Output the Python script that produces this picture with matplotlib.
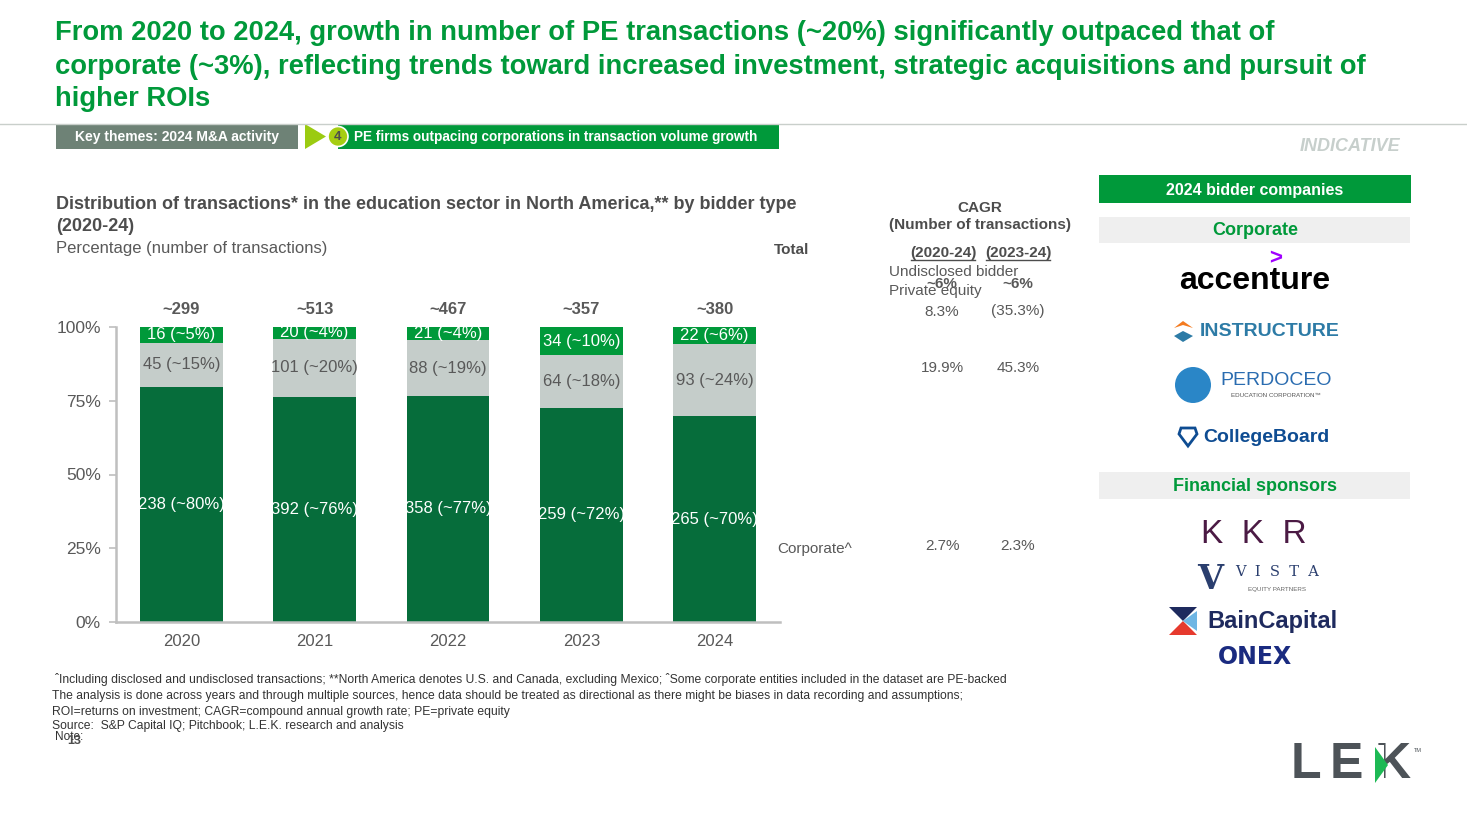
import matplotlib
matplotlib.use("Agg")
import matplotlib.pyplot as plt
import numpy as np
from matplotlib import font_manager
from matplotlib.patches import Rectangle, Polygon, Ellipse

W, H = 1467, 825

# data
years = ["2020", "2021", "2022", "2023", "2024"]
corporate = [238, 392, 358, 259, 265]
undisclosed = [45, 101, 88, 64, 93]
private_equity = [16, 20, 21, 34, 22]
totals = [299, 513, 467, 357, 380]
# share labels as printed on the slide
corporate_pct = [80, 76, 77, 72, 70]
undisclosed_pct = [15, 20, 19, 18, 24]
pe_pct = [5, 4, 4, 10, 6]
cagr_rows = ["Total", "Private equity", "Undisclosed bidder", "Corporate^"]
cagr_2020_24 = ["~6%", "8.3%", "19.9%", "2.7%"]
cagr_2023_24 = ["~6%", "(35.3%)", "45.3%", "2.3%"]

DARK = "#066D3B"
BRIGHT = "#00993A"
LIGHT = "#C5CDCA"
TXT = "#595959"
HEAD = "#4D4D4D"

names = {f.name for f in font_manager.fontManager.ttflist}
SANS = "Liberation Sans" if "Liberation Sans" in names else "DejaVu Sans"
NARROW = "Liberation Sans Narrow" if "Liberation Sans Narrow" in names else SANS
plt.rcParams["font.family"] = [SANS, "DejaVu Sans"]

fig = plt.figure(figsize=(W / 100, H / 100), dpi=100)


def fx(x):
    return x / W


def fy(y):
    return 1 - y / H


def txt(x, y, s, **kw):
    kw.setdefault("va", "center")
    return fig.text(fx(x), fy(y + 1.5), s, **kw)


def box(x0, y0, x1, y1, color, z=1):
    fig.patches.append(Rectangle((fx(x0), fy(y1)), fx(x1) - fx(x0), fy(y0) - fy(y1),
                                 transform=fig.transFigure, color=color, lw=0, zorder=z))


def poly(pts, color, fill=True, lw=0, z=1):
    fig.patches.append(Polygon([(fx(a), fy(b)) for a, b in pts], closed=True,
                               transform=fig.transFigure, fill=fill, zorder=z,
                               facecolor=color if fill else "none", edgecolor=color, lw=lw))


def disc(cx, cy, r, face, edge="none", lw=0):
    fig.patches.append(Ellipse((fx(cx), fy(cy)), 2 * r / W, 2 * r / H, transform=fig.transFigure,
                               facecolor=face, edgecolor=edge, lw=lw))


# headline
title = ["From 2020 to 2024, growth in number of PE transactions (~20%) significantly outpaced that of",
         "corporate (~3%), reflecting trends toward increased investment, strategic acquisitions and pursuit of",
         "higher ROIs"]
for i, line in enumerate(title):
    txt(55, 32 + i * 33, line, fontsize=19.75, fontweight="bold", color="#00993A")

fig.add_artist(plt.Line2D([0, 1], [fy(124), fy(124)], transform=fig.transFigure,
                          color="#C9CFCB", lw=1))

# breadcrumb
box(56, 124, 298, 149, "#6E8276")
txt(177, 135, "Key themes: 2024 M&A activity", fontsize=10, fontweight="bold",
    color="white", ha="center", family=NARROW)
poly([(305, 124), (326, 136.5), (305, 149)], "#9BCB11")
box(338, 124, 779, 149, BRIGHT)
disc(338, 136.5, 10, "#A6CE12", "white", 1.2)
txt(338, 135, "4", fontsize=9.5, fontweight="bold", color=HEAD, ha="center")
txt(354, 135, "PE firms outpacing corporations in transaction volume growth", fontsize=9.8,
    fontweight="bold", color="white", family=NARROW)
txt(1350, 145, "INDICATIVE", fontsize=13, fontweight="bold", style="italic",
    color="#C7CFCC", ha="center")

# chart headings
txt(56, 203, "Distribution of transactions* in the education sector in North America,** by bidder type",
    fontsize=13, fontweight="bold", color=HEAD)
txt(56, 225, "(2020-24)", fontsize=13, fontweight="bold", color=HEAD)
txt(56, 247, "Percentage (number of transactions)", fontsize=12, color=TXT)

# stacked bars
corp = np.array(corporate, float)
und = np.array(undisclosed, float)
pe = np.array(private_equity, float)
tot = np.array(totals, float)
s_corp, s_und, s_pe = corp / tot, und / tot, pe / tot

ax = fig.add_axes([fx(116), fy(622), fx(780) - fx(116), fy(327) - fy(622)])
x = np.arange(len(years))
bw = 0.62
ax.bar(x, s_corp, bw, color=DARK, zorder=2)
ax.bar(x, s_und, bw, bottom=s_corp, color=LIGHT, zorder=2)
ax.bar(x, s_pe, bw, bottom=s_corp + s_und, color=BRIGHT, zorder=2)

for i in range(len(years)):
    ax.text(x[i], s_corp[i] / 2, f"{corporate[i]} (~{corporate_pct[i]}%)", ha="center",
            va="center", color="white", fontsize=12, zorder=3)
    ax.text(x[i], s_corp[i] + s_und[i] / 2, f"{undisclosed[i]} (~{undisclosed_pct[i]}%)",
            ha="center", va="center", color=TXT, fontsize=12, zorder=3)
    ax.text(x[i], s_corp[i] + s_und[i] + s_pe[i] / 2, f"{private_equity[i]} (~{pe_pct[i]}%)",
            ha="center", va="center", color="white", fontsize=12, zorder=3)
    ax.text(x[i], 1.06, f"~{totals[i]}", ha="center", va="center", color=TXT,
            fontsize=12, fontweight="bold")

ax.set_xlim(-0.49, 4.49)
ax.set_ylim(0, 1)
ax.set_yticks([0, 0.25, 0.5, 0.75, 1.0])
ax.set_yticklabels(["0%", "25%", "50%", "75%", "100%"])
ax.set_xticks(x)
ax.set_xticklabels(years)
ax.tick_params(axis="y", colors="#BFBFBF", labelcolor=TXT, labelsize=12.5, length=5, width=1.2, pad=6)
ax.tick_params(axis="x", length=0, labelcolor=TXT, labelsize=12, pad=9)
for sp in ["top", "right"]:
    ax.spines[sp].set_visible(False)
for sp in ["left", "bottom"]:
    ax.spines[sp].set_color("#BFBFBF")
    ax.spines[sp].set_linewidth(1.8)
ax.patch.set_alpha(0)

# CAGR table
txt(980, 206, "CAGR", fontsize=11, fontweight="bold", color=HEAD, ha="center")
txt(980, 223, "(Number of transactions)", fontsize=11, fontweight="bold", color=HEAD, ha="center")
for cx, lab in [(943, "(2020-24)"), (1018, "(2023-24)")]:
    txt(cx, 251, lab, fontsize=11, fontweight="bold", color=HEAD, ha="center")
    fig.add_artist(plt.Line2D([fx(cx - 32), fx(cx + 32)], [fy(260), fy(260)],
                              transform=fig.transFigure, color=HEAD, lw=1))
txt(774, 249, cagr_rows[0], fontsize=11, fontweight="bold", color=HEAD)
txt(889, 271, cagr_rows[2], fontsize=11, color=TXT)
txt(889, 290, cagr_rows[1], fontsize=11, color=TXT)
txt(777, 548, cagr_rows[3], fontsize=11, color=TXT)
row_y = [282, 310, 367, 545]
for j, ry in enumerate(row_y):
    w = "bold" if j == 0 else "normal"
    txt(942, ry, cagr_2020_24[j], fontsize=11, color=TXT, ha="center", fontweight=w)
    txt(1018, ry, cagr_2023_24[j], fontsize=11, color=TXT, ha="center", fontweight=w)

# right panel
box(1099, 175, 1411, 203, BRIGHT)
txt(1255, 189, "2024 bidder companies", fontsize=11.5, fontweight="bold", color="white", ha="center")
box(1099, 217, 1410, 243, "#EFEFEF")
txt(1255, 229, "Corporate", fontsize=13, fontweight="bold", color=BRIGHT, ha="center")
box(1099, 472, 1410, 499, "#EFEFEF")
txt(1255, 485, "Financial sponsors", fontsize=13, fontweight="bold", color=BRIGHT, ha="center")

# logos (text approximations)
txt(1255, 279, "accenture", fontsize=23, fontweight="bold", color="black", ha="center")
txt(1276, 257, ">", fontsize=16, fontweight="bold", color="#A100FF", ha="center")
poly([(1174, 328), (1183, 321), (1193, 328), (1183, 325)], "#F47B20")
poly([(1174, 336), (1183, 331), (1193, 336), (1183, 342)], "#2D7BA6")
txt(1270, 330, "INSTRUCTURE", fontsize=14, fontweight="bold", color="#2D7BA6",
    ha="center", family=NARROW)
disc(1193, 385, 18, "#2A86C7")
txt(1276, 379, "PERDOCEO", fontsize=14, color="#2A6CB0", ha="center")
txt(1276, 394, "EDUCATION CORPORATION\u2122", fontsize=4.5, color="#555555", ha="center")
poly([(1181, 428), (1195, 428), (1197, 434), (1188, 446), (1179, 434)], "#0E4C92", fill=False, lw=2)
txt(1266, 436, "CollegeBoard", fontsize=14, fontweight="bold", color="#0E4C92", ha="center")
txt(1254, 533, "K  K  R", fontsize=24, color="#4B1A44", ha="center")
txt(1210, 578, "V", fontsize=24, fontweight="bold", color="#2A3E6E", ha="center", family="DejaVu Serif")
txt(1277, 571, "V  I  S  T  A", fontsize=10.5, color="#2A3E6E", ha="center", family="DejaVu Serif")
txt(1277, 588, "EQUITY PARTNERS", fontsize=4.5, color="#666666", ha="center")
poly([(1169, 607), (1197, 607), (1183, 621)], "#1E2A5E")
poly([(1169, 635), (1197, 635), (1183, 621)], "#E63A2E")
poly([(1183, 621), (1197, 611), (1197, 631)], "#6FB6E4")
txt(1272, 620, "BainCapital", fontsize=17, fontweight="bold", color="#1E2A5E", ha="center")
txt(1255, 656, "ONEX", fontsize=17, fontweight="heavy", color="#1A2B80", ha="center",
    family="DejaVu Sans")

# footnotes
foot = ["\u02c6Including disclosed and undisclosed transactions; **North America denotes U.S. and Canada, excluding Mexico; \u02c6Some corporate entities included in the dataset are PE-backed",
        "The analysis is done across years and through multiple sources, hence data should be treated as directional as there might be biases in data recording and assumptions;",
        "ROI=returns on investment; CAGR=compound annual growth rate; PE=private equity",
        "Source:  S&P Capital IQ; Pitchbook; L.E.K. research and analysis"]
fy_list = [678, 695, 710, 725]
for k, line in enumerate(foot):
    txt(52 if k > 0 else 55, fy_list[k], line, fontsize=8.7, color="#333333", family=NARROW)
txt(55, 735, "Note:", fontsize=8.5, color="#333333", family=NARROW)
txt(67, 740, "13", fontsize=9, fontweight="bold", color=HEAD)

# LEK logo
for lx, letter in [(1306, "L"), (1346, "E"), (1393, "K")]:
    txt(lx, 764, letter, fontsize=36, fontweight="bold", color="#4D5358", ha="center")
box(1373, 745, 1384, 785, "white", z=5)
poly([(1375, 747), (1375, 783), (1388, 765)], "#1DB954", z=6)
txt(1418, 749, "TM", fontsize=4, color="#4D5358", ha="center")

fig.savefig("out.png", dpi=100)
